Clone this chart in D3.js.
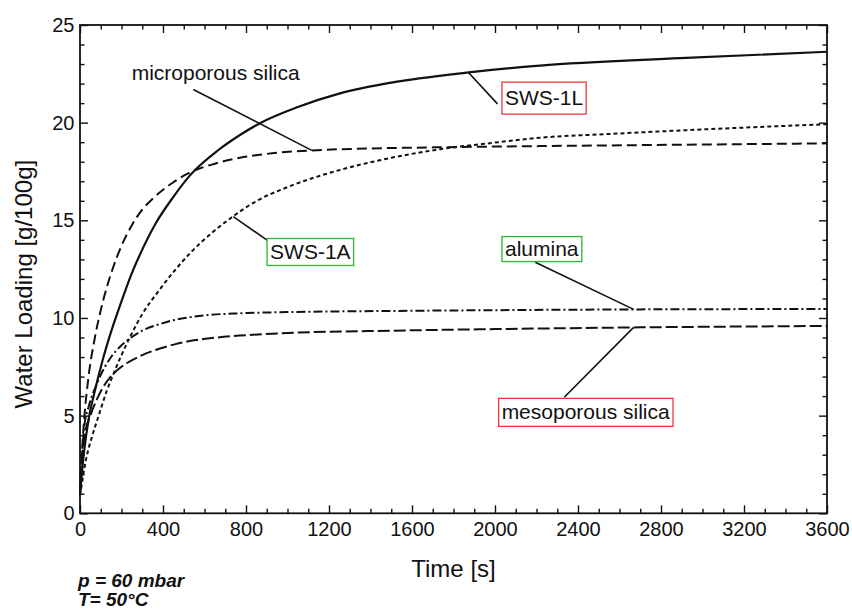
<!DOCTYPE html>
<html><head><meta charset="utf-8">
<script src="https://cdn.jsdelivr.net/npm/d3@7"></script>
<style>
body{margin:0;background:#fff;}
svg{display:block;background:#fff;}
text{font-family:"Liberation Sans",Arial,Helvetica,sans-serif;fill:#111;}
</style></head><body>
<svg id="chart" width="852" height="610"></svg>
<script>
// ---- data (time in s, water loading in g/100g) ----
const tSWS1L = [0,20,43,70,108,150,185,250,300,368,450,530,667,771,867,1050,1253,1500,1863,2217,2892,3600];
const vSWS1L = [1.0,3.2,4.9,6.2,7.8,9.3,10.4,12.3,13.5,14.9,16.2,17.3,18.6,19.37,19.97,20.8,21.5,22.05,22.56,22.92,23.3,23.63];

const tMicro = [0,10,20,40,70,100,130,160,200,250,300,350,450,530,650,771,900,1117,1735,2217,2900,3600];
const vMicro = [1.0,3.2,4.8,6.9,8.9,10.4,11.6,12.6,13.7,14.75,15.55,16.1,16.95,17.45,17.9,18.2,18.4,18.58,18.74,18.8,18.87,18.94];

const tSWS1A = [0,30,60,90,130,160,200,240,300,373,450,538,640,731,844,1000,1253,1500,1735,2000,2217,2550,2892,3250,3600];
const vSWS1A = [0.9,2.8,4.0,5.0,6.3,7.1,8.1,9.0,10.2,11.3,12.35,13.4,14.4,15.15,15.95,16.7,17.58,18.2,18.64,18.98,19.23,19.42,19.6,19.77,19.92];

const tAlumina = [0,10,20,43,84,120,150,200,240,300,389,456,517,616,771,1000,1500,2000,2700,3600];
const vAlumina = [1.0,3.0,4.4,5.5,6.7,7.5,8.0,8.6,8.95,9.35,9.7,9.9,10.02,10.15,10.24,10.3,10.36,10.4,10.44,10.46];

const tMeso = [0,10,24,50,84,120,148,200,236,300,389,456,517,616,771,1000,1500,2000,2700,3600];
const vMeso = [1.0,2.8,4.1,5.0,5.9,6.6,7.0,7.5,7.75,8.1,8.45,8.65,8.8,8.95,9.1,9.23,9.35,9.43,9.52,9.59];

const xTickLabels = [0,400,800,1200,1600,2000,2400,2800,3200,3600];
const yTickLabels = [0,5,10,15,20,25];

const seriesNames = ["SWS-1L","microporous silica","SWS-1A","alumina","mesoporous silica"];

// annotation anchors in data units: label left/baseline, leader from -> to
const labelText = ["microporous silica","SWS-1L","SWS-1A","alumina","mesoporous silica"];
const labelT    = [249, 2048, 916, 2048, 2032];
const labelV    = [22.19, 20.9, 13.02, 13.17, 4.81];
const leaderT1  = [546, 2012, 905, 2194, 2334];
const leaderV1  = [21.7, 20.96, 13.96, 12.85, 5.94];
const leaderT2  = [1117, 1872, 739, 2668, 2668];
const leaderV2  = [18.58, 22.57, 15.19, 10.44, 9.52];

// ---- layout / styles ----
const svg = d3.select("#chart");
const X0 = 80, X1 = 827, Y0 = 513.3, Y1 = 25;
const x = d3.scaleLinear().domain([0,3600]).range([X0,X1]);
const y = d3.scaleLinear().domain([0,25]).range([Y0,Y1]);

const styles = {
  "SWS-1L": {dash:null, w:2.2},
  "microporous silica": {dash:"10,5", w:2},
  "SWS-1A": {dash:"4,3", w:2},
  "alumina": {dash:"9,3,2,3", w:2},
  "mesoporous silica": {dash:"12,4", w:2}
};
const boxStyle = {
  "SWS-1L": {stroke:"#e8393b", h:32},
  "SWS-1A": {stroke:"#2fb52f", h:27},
  "alumina": {stroke:"#2fb52f", h:25},
  "mesoporous silica": {stroke:"#e8393b", h:28}
};

const xMinor = d3.range(0,3601,100).filter(d => d % 400 !== 0);
const yMinor = d3.range(0,26,1).filter(d => d % 5 !== 0);
const font = '"Liberation Sans",Arial,Helvetica,sans-serif';

function styleAxis(g){
  g.select(".domain").remove();
  g.attr("font-size",20).attr("font-family",font);
  g.selectAll(".tick line").attr("stroke","#111").attr("stroke-width",1.4);
  g.selectAll(".tick text").attr("fill","#111");
}

// bottom
svg.append("g").attr("transform",`translate(0,${Y0})`)
  .call(d3.axisBottom(x).tickValues(xTickLabels).tickSize(-8).tickPadding(8.5).tickFormat(d3.format("d"))).call(styleAxis);
svg.append("g").attr("transform",`translate(0,${Y0})`)
  .call(d3.axisBottom(x).tickValues(xMinor).tickSize(-4.5).tickFormat("")).call(styleAxis);
// top
svg.append("g").attr("transform",`translate(0,${Y1})`)
  .call(d3.axisTop(x).tickValues(xTickLabels).tickSize(-8).tickFormat("")).call(styleAxis);
svg.append("g").attr("transform",`translate(0,${Y1})`)
  .call(d3.axisTop(x).tickValues(xMinor).tickSize(-4.5).tickFormat("")).call(styleAxis);
// left
svg.append("g").attr("transform",`translate(${X0},0)`)
  .call(d3.axisLeft(y).tickValues(yTickLabels).tickSize(-8).tickPadding(5.5).tickFormat(d3.format("d"))).call(styleAxis);
svg.append("g").attr("transform",`translate(${X0},0)`)
  .call(d3.axisLeft(y).tickValues(yMinor).tickSize(-4.5).tickFormat("")).call(styleAxis);
// right
svg.append("g").attr("transform",`translate(${X1},0)`)
  .call(d3.axisRight(y).tickValues(yTickLabels).tickSize(-8).tickFormat("")).call(styleAxis);
svg.append("g").attr("transform",`translate(${X1},0)`)
  .call(d3.axisRight(y).tickValues(yMinor).tickSize(-4.5).tickFormat("")).call(styleAxis);

// frame
svg.append("rect").attr("x",X0).attr("y",Y1).attr("width",X1-X0).attr("height",Y0-Y1)
  .attr("fill","none").attr("stroke","#111").attr("stroke-width",1.8);

// curves
const seriesT = [tSWS1L,tMicro,tSWS1A,tAlumina,tMeso];
const seriesV = [vSWS1L,vMicro,vSWS1A,vAlumina,vMeso];
const line = d3.line().x(d=>x(d[0])).y(d=>y(d[1])).curve(d3.curveMonotoneX);
seriesNames.forEach((name,i)=>{
  const pts = seriesT[i].map((t,j)=>[t,seriesV[i][j]]);
  svg.append("path").datum(pts).attr("d",line)
    .attr("fill","none").attr("stroke","#111").attr("stroke-width",styles[name].w)
    .attr("stroke-dasharray",styles[name].dash);
});

// leaders
labelText.forEach((lab,i)=>{
  svg.append("line")
    .attr("x1",x(leaderT1[i])).attr("y1",y(leaderV1[i]))
    .attr("x2",x(leaderT2[i])).attr("y2",y(leaderV2[i]))
    .attr("stroke","#111").attr("stroke-width",1.6);
});

// labels
labelText.forEach((lab,i)=>{
  const bs = boxStyle[lab];
  let rect = null;
  if(bs) rect = svg.append("rect");
  const t = svg.append("text").attr("x",x(labelT[i])).attr("y",y(labelV[i]))
    .attr("font-size",21).text(lab);
  if(bs){
    const b = t.node().getBBox();
    const cy = y(labelV[i]) - 7;
    rect.attr("x",b.x-3).attr("y",cy-bs.h/2).attr("width",b.width+6).attr("height",bs.h)
      .attr("fill","#fff").attr("stroke",bs.stroke).attr("stroke-width",1.3);
  }
});

// axis titles
svg.append("text").attr("x",(X0+X1)/2).attr("y",577).attr("text-anchor","middle")
  .attr("font-size",24).text("Time [s]");
svg.append("text").attr("transform",`translate(31.5,${(Y0+Y1)/2 + 15}) rotate(-90)`)
  .attr("text-anchor","middle").attr("font-size",24).text("Water Loading [g/100g]");

// conditions note
svg.append("text").attr("x",X0-2).attr("y",587).attr("font-size",19)
  .attr("font-weight","bold").attr("font-style","italic").text("p = 60 mbar");
svg.append("text").attr("x",X0-2).attr("y",606).attr("font-size",19)
  .attr("font-weight","bold").attr("font-style","italic").text("T= 50°C");
</script>
</body></html>
